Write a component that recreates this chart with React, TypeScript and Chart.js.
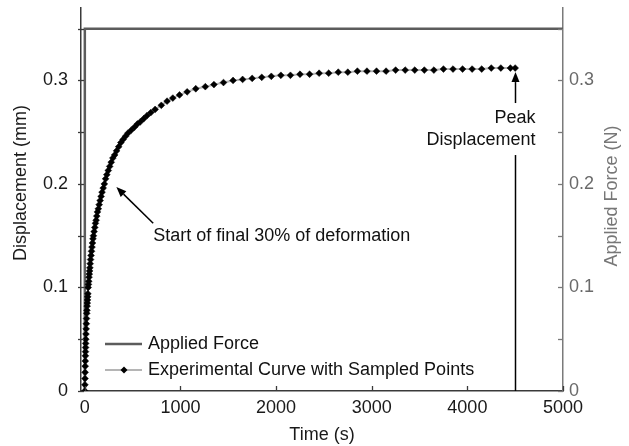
import React, { useEffect, useRef } from 'react';
import { Chart, registerables } from 'chart.js';

Chart.register(...registerables);

// ---- Data ----
const timeS = [
  0, 1, 2, 3, 4, 5, 6, 7, 8, 9, 10, 12, 14, 16, 18, 20, 22, 24, 26, 28, 30, 32, 35, 38, 41, 44, 47, 50, 53, 56,
  60, 65, 70, 75, 80, 85, 90, 97, 104, 111, 118, 125, 132, 141, 150, 160, 170, 180, 192, 204, 217, 230, 245, 260,
  276, 293, 312, 332, 354, 377, 400, 425, 450, 485, 520, 550, 580, 615, 650, 690, 735, 800, 860, 920, 990, 1070,
  1160, 1260, 1350, 1450, 1550, 1650, 1750, 1850, 1950, 2050, 2150, 2250, 2350, 2450, 2550, 2650, 2750, 2850,
  2950, 3050, 3150, 3250, 3350, 3450, 3550, 3650, 3750, 3850, 3950, 4050, 4150, 4250, 4350, 4450, 4500,
];
const displacementMm = [
  0.0, 0.006, 0.012, 0.018, 0.024, 0.029, 0.034, 0.038, 0.042, 0.046, 0.05, 0.055, 0.06, 0.065, 0.07, 0.075,
  0.078, 0.082, 0.085, 0.088, 0.091, 0.094, 0.1, 0.103, 0.106, 0.11, 0.113, 0.116, 0.119, 0.123,
  0.127, 0.131, 0.135, 0.139, 0.143, 0.147, 0.15, 0.154, 0.158, 0.162, 0.165, 0.169, 0.173, 0.176, 0.18, 0.184,
  0.188, 0.192, 0.196, 0.2, 0.205, 0.209, 0.213, 0.217,
  0.221, 0.225, 0.228, 0.232, 0.236, 0.24, 0.243, 0.246, 0.249, 0.252, 0.255, 0.258, 0.26, 0.263, 0.266, 0.269,
  0.272, 0.276, 0.28, 0.283, 0.286, 0.289,
  0.292, 0.294, 0.296, 0.298, 0.3, 0.301, 0.302, 0.303, 0.304, 0.305, 0.305, 0.306, 0.306, 0.307, 0.307, 0.308,
  0.308, 0.309, 0.309, 0.309, 0.309, 0.31, 0.31, 0.31, 0.31, 0.31, 0.311, 0.311, 0.311, 0.311, 0.311, 0.312,
  0.312, 0.312, 0.312,
];
const forceTimeS = [0, 0, 5000];
const forceN = [0, 0.35, 0.35];

const xTickValues = [0, 1000, 2000, 3000, 4000, 5000];
const xTickLabels = ['0', '1000', '2000', '3000', '4000', '5000'];
const yTickValues = [0, 0.05, 0.1, 0.15, 0.2, 0.25, 0.3, 0.35];
const yTickLabels = ['0', '', '0.1', '', '0.2', '', '0.3', ''];

const peakTimeS = 4500;
const peakDispMm = 0.312;

const seriesLabels = ['Applied Force', 'Experimental Curve with Sampled Points'];
const axisTitles = { x: 'Time (s)', y: 'Displacement (mm)', y1: 'Applied Force (N)' };
const noteStart = 'Start of final 30% of deformation';
const notePeak = ['Peak', 'Displacement'];

// ---- Styles ----
const FONT = '"Liberation Sans", Arial, Helvetica, sans-serif';
const FS = 18;
const FORCE_COLOR = '#5c5c5c';
const CURVE_LINE = '#b5b5b5';
const AXIS_DARK = '#3a3a3a';
const AXIS_GRAY = '#7a7a7a';

function drawArrow(ctx: CanvasRenderingContext2D, x0: number, y0: number, x1: number, y1: number, head = 10, half = 4) {
  const a = Math.atan2(y1 - y0, x1 - x0);
  const bx = x1 - head * Math.cos(a);
  const by = y1 - head * Math.sin(a);
  ctx.beginPath();
  ctx.moveTo(x0, y0);
  ctx.lineTo(bx, by);
  ctx.stroke();
  ctx.beginPath();
  ctx.moveTo(x1, y1);
  ctx.lineTo(bx + half * Math.sin(a), by - half * Math.cos(a));
  ctx.lineTo(bx - half * Math.sin(a), by + half * Math.cos(a));
  ctx.closePath();
  ctx.fill();
}

const zeroPad = (s: any) => {
  s.paddingTop = 0;
  s.paddingBottom = 0;
  s.paddingLeft = 0;
  s.paddingRight = 0;
};

const overlayPlugin = {
  id: 'overlay',
  afterDraw(chart: any) {
    const ctx: CanvasRenderingContext2D = chart.ctx;
    const { left, right, bottom } = chart.chartArea;
    const xs = chart.scales.x;
    const ys = chart.scales.y;
    const y1s = chart.scales.y1;
    ctx.save();

    // tick marks
    ctx.lineWidth = 1.3;
    ctx.strokeStyle = AXIS_DARK;
    yTickValues.forEach((v) => {
      const p = Math.round(ys.getPixelForValue(v)) + 0.5;
      ctx.beginPath();
      ctx.moveTo(left - 3, p);
      ctx.lineTo(left + 3, p);
      ctx.stroke();
    });
    xTickValues.forEach((v) => {
      const p = Math.round(xs.getPixelForValue(v)) + 0.5;
      ctx.beginPath();
      ctx.moveTo(p, bottom);
      ctx.lineTo(p, bottom - 5);
      ctx.stroke();
    });
    ctx.strokeStyle = AXIS_GRAY;
    yTickValues.forEach((v) => {
      const p = Math.round(y1s.getPixelForValue(v)) + 0.5;
      ctx.beginPath();
      ctx.moveTo(right - 5, p);
      ctx.lineTo(right, p);
      ctx.stroke();
    });

    // axis titles
    ctx.font = `${FS}px ${FONT}`;
    ctx.textBaseline = 'middle';
    ctx.textAlign = 'center';
    ctx.fillStyle = '#1a1a1a';
    ctx.fillText(axisTitles.x, (left + right) / 2, 435);
    ctx.save();
    ctx.translate(21, 183);
    ctx.rotate(-Math.PI / 2);
    ctx.fillText(axisTitles.y, 0, 0);
    ctx.restore();
    ctx.save();
    ctx.fillStyle = '#777777';
    ctx.translate(612, 196);
    ctx.rotate(-Math.PI / 2);
    ctx.fillText(axisTitles.y1, 0, 0);
    ctx.restore();

    // legend
    ctx.textAlign = 'left';
    ctx.fillStyle = '#111';
    ctx.lineWidth = 2.5;
    ctx.strokeStyle = FORCE_COLOR;
    ctx.beginPath();
    ctx.moveTo(105, 344);
    ctx.lineTo(142, 344);
    ctx.stroke();
    ctx.fillText(seriesLabels[0], 148, 344);
    ctx.lineWidth = 2;
    ctx.strokeStyle = CURVE_LINE;
    ctx.beginPath();
    ctx.moveTo(105, 370);
    ctx.lineTo(142, 370);
    ctx.stroke();
    ctx.fillStyle = '#000';
    ctx.beginPath();
    ctx.moveTo(124, 366.5);
    ctx.lineTo(127.5, 370);
    ctx.lineTo(124, 373.5);
    ctx.lineTo(120.5, 370);
    ctx.closePath();
    ctx.fill();
    ctx.fillStyle = '#111';
    ctx.fillText(seriesLabels[1], 148, 370);

    // annotation: start of final 30%
    ctx.strokeStyle = '#000';
    ctx.fillStyle = '#000';
    ctx.lineWidth = 1.5;
    const tipX = xs.getPixelForValue(330);
    const tipY = ys.getPixelForValue(0.197);
    const tailX = xs.getPixelForValue(715);
    const tailY = ys.getPixelForValue(0.162);
    drawArrow(ctx, tailX, tailY, tipX, tipY, 10, 4);
    ctx.fillStyle = '#111';
    ctx.fillText(noteStart, tailX, ys.getPixelForValue(0.1495));

    // annotation: peak displacement
    const px = Math.round(xs.getPixelForValue(peakTimeS)) + 0.5;
    const py = ys.getPixelForValue(peakDispMm);
    ctx.strokeStyle = '#000';
    ctx.fillStyle = '#000';
    ctx.lineWidth = 1.5;
    ctx.beginPath();
    ctx.moveTo(px, bottom);
    ctx.lineTo(px, py + 87);
    ctx.stroke();
    drawArrow(ctx, px, py + 35, px, py + 4, 10, 4);
    ctx.textAlign = 'right';
    ctx.fillStyle = '#111';
    ctx.fillText(notePeak[0], px + 20, py + 50);
    ctx.fillText(notePeak[1], px + 20, py + 72);

    ctx.restore();
  },
};

export default function App() {
  const canvasRef = useRef<HTMLCanvasElement | null>(null);

  useEffect(() => {
    if (!canvasRef.current) return;
    const chart = new Chart(canvasRef.current, {
      type: 'line',
      data: {
        datasets: [
          {
            label: seriesLabels[1],
            data: timeS.map((t, i) => ({ x: t, y: displacementMm[i] })),
            yAxisID: 'y',
            borderColor: CURVE_LINE,
            borderWidth: 2,
            pointStyle: 'rectRot',
            pointRadius: 3.4,
            pointBackgroundColor: '#000',
            pointBorderColor: '#000',
            pointBorderWidth: 0.5,
            tension: 0,
            order: 1,
          },
          {
            label: seriesLabels[0],
            data: forceTimeS.map((t, i) => ({ x: t, y: forceN[i] })),
            yAxisID: 'y1',
            borderColor: FORCE_COLOR,
            borderWidth: 2.5,
            pointRadius: 0,
            tension: 0,
            order: 2,
          },
        ],
      },
      options: {
        animation: false,
        responsive: false,
        devicePixelRatio: 1,
        layout: { padding: { top: 8, left: 0, right: 0, bottom: 0 } },
        plugins: { legend: { display: false }, tooltip: { enabled: false } },
        scales: {
          x: {
            type: 'linear',
            min: -40,
            max: 5000,
            afterBuildTicks: (s: any) => {
              s.ticks = xTickValues.map((v) => ({ value: v }));
            },
            afterFit: (s: any) => {
              s.height = 55;
              zeroPad(s);
            },
            grid: { drawOnChartArea: false, drawTicks: false },
            border: { color: AXIS_DARK, width: 1.5 },
            ticks: {
              autoSkip: false,
              maxRotation: 0,
              padding: 6,
              color: '#1a1a1a',
              font: { family: FONT, size: FS },
              callback: (_v: any, i: number) => xTickLabels[i],
            },
          },
          y: {
            type: 'linear',
            position: 'left',
            min: 0,
            max: 0.37,
            afterBuildTicks: (s: any) => {
              s.ticks = yTickValues.map((v) => ({ value: v }));
            },
            afterFit: (s: any) => {
              s.width = 81;
              zeroPad(s);
            },
            grid: { drawOnChartArea: false, drawTicks: false },
            border: { color: AXIS_DARK, width: 1.5 },
            ticks: {
              autoSkip: false,
              padding: 13,
              color: '#1a1a1a',
              font: { family: FONT, size: FS },
              callback: (_v: any, i: number) => yTickLabels[i],
            },
          },
          y1: {
            type: 'linear',
            position: 'right',
            min: 0,
            max: 0.37,
            afterBuildTicks: (s: any) => {
              s.ticks = yTickValues.map((v) => ({ value: v }));
            },
            afterFit: (s: any) => {
              s.width = 66;
              zeroPad(s);
            },
            grid: { drawOnChartArea: false, drawTicks: false },
            border: { color: AXIS_GRAY, width: 1.5 },
            ticks: {
              autoSkip: false,
              padding: 6,
              color: '#6a6a6a',
              font: { family: FONT, size: FS },
              callback: (_v: any, i: number) => yTickLabels[i],
            },
          },
        },
      },
      plugins: [overlayPlugin],
    });
    return () => chart.destroy();
  }, []);

  return (
    <div style={{ position: 'absolute', left: 0, top: 0, width: 629, height: 446, background: '#fff' }}>
      <canvas ref={canvasRef} width={629} height={446} />
    </div>
  );
}
